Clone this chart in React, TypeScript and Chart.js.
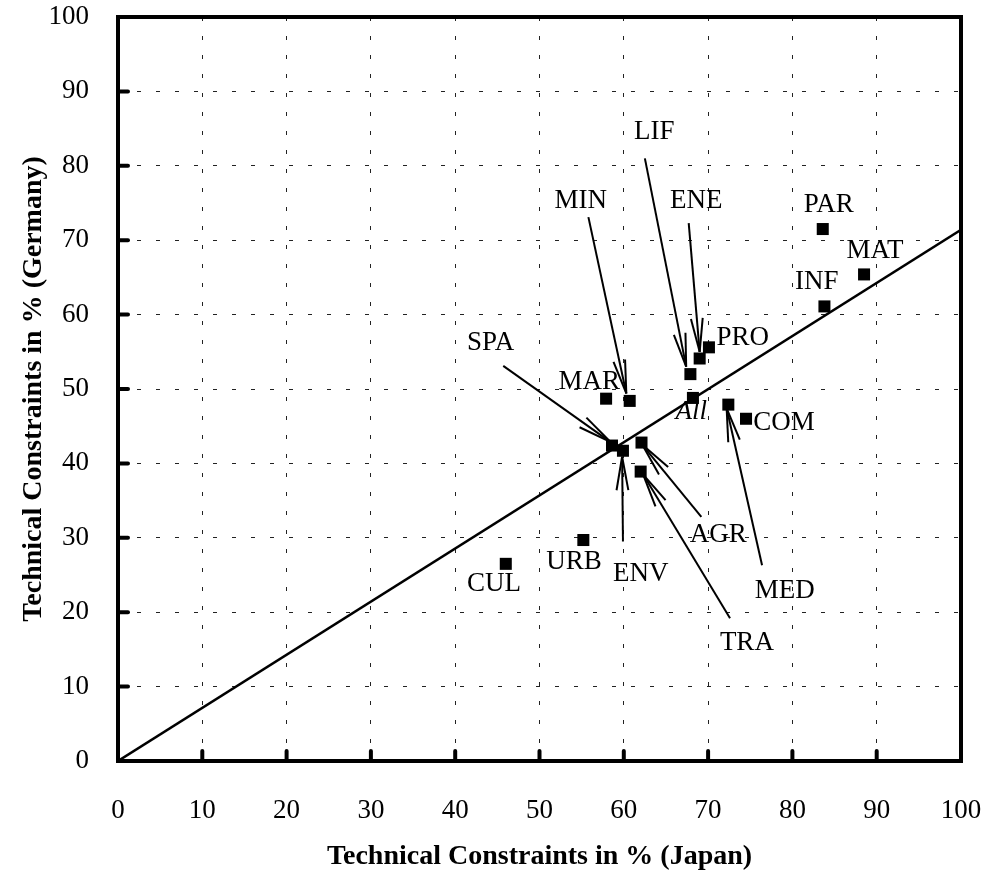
import React, { useEffect, useRef } from 'react';
import { Chart, registerables } from 'chart.js';

Chart.register(...registerables);

const SERIF = '"Liberation Serif", "Times New Roman", Times, serif';

// Research fields: share of technical constraints (%) reported in Japan vs Germany
const sectors = ['PAR', 'MAT', 'INF', 'PRO', 'ENE', 'LIF', 'All', 'MED', 'COM', 'MIN', 'MAR', 'AGR', 'SPA', 'ENV', 'TRA', 'URB', 'CUL'];
const japanPct = [83.6, 88.5, 83.8, 70.1, 69.0, 67.9, 68.2, 72.4, 74.5, 60.7, 57.9, 62.1, 58.6, 59.9, 62.0, 55.2, 46.0];
const germanyPct = [71.5, 65.4, 61.1, 55.6, 54.1, 52.0, 48.8, 47.9, 46.0, 48.4, 48.7, 42.8, 42.4, 41.7, 38.9, 29.7, 26.5];

// Where each sector code is written (axis units)
const labelJapan = [84.3, 89.8, 82.9, 74.1, 68.6, 63.6, 68.0, 79.1, 79.0, 54.9, 55.9, 71.2, 44.2, 62.0, 74.6, 54.1, 44.6];
const labelGermany = [74.7, 68.5, 64.4, 56.9, 75.3, 84.6, 46.9, 22.8, 45.4, 75.3, 51.0, 30.4, 56.2, 25.1, 15.9, 26.7, 23.8];

// Leader arrows from a label to its marker (axis units)
const arrowSectors = ['LIF', 'MIN', 'ENE', 'SPA', 'ENV', 'AGR', 'TRA', 'MED'];
const arrowFromJapan = [62.5, 55.8, 67.7, 45.7, 59.9, 69.2, 72.6, 76.4];
const arrowFromGermany = [81.0, 73.1, 72.3, 53.1, 29.5, 32.8, 19.2, 26.3];
const arrowToJapan = [67.4, 60.3, 69.0, 58.4, 59.8, 62.2, 62.3, 72.2];
const arrowToGermany = [53.0, 49.4, 55.0, 42.9, 40.9, 42.5, 38.5, 47.4];

// Reference line through the origin
const trendJapan = [0, 100];
const trendGermany = [0, 71.4];

const tickValues = [0, 10, 20, 30, 40, 50, 60, 70, 80, 90, 100];

const decorations = {
  id: 'decorations',
  afterDatasetsDraw(chart: any) {
    const { ctx, chartArea: a, scales } = chart;
    const x = scales.x;
    const y = scales.y;
    const seg = (x1: number, y1: number, x2: number, y2: number) => {
      ctx.beginPath();
      ctx.moveTo(x1, y1);
      ctx.lineTo(x2, y2);
      ctx.stroke();
    };
    ctx.save();
    ctx.strokeStyle = '#000';

    // heavy frame
    ctx.lineWidth = 4;
    ctx.lineCap = 'butt';
    ctx.strokeRect(a.left, a.top, a.right - a.left, a.bottom - a.top);

    // inward tick marks on bottom and left axes
    ctx.lineCap = 'round';
    tickValues.forEach((v) => {
      if (v === 0 || v === 100) return;
      const px = x.getPixelForValue(v);
      seg(px, a.bottom, px, a.bottom - 10);
      const py = y.getPixelForValue(v);
      seg(a.left, py, a.left + 10, py);
    });

    // leader arrows with open heads
    ctx.lineCap = 'butt';
    ctx.lineWidth = 2;
    const headLen = 34;
    const spread = (10 * Math.PI) / 180;
    arrowSectors.forEach((_, i) => {
      const sx = x.getPixelForValue(arrowFromJapan[i]);
      const sy = y.getPixelForValue(arrowFromGermany[i]);
      const tx = x.getPixelForValue(arrowToJapan[i]);
      const ty = y.getPixelForValue(arrowToGermany[i]);
      seg(sx, sy, tx, ty);
      const ang = Math.atan2(sy - ty, sx - tx);
      seg(tx, ty, tx + headLen * Math.cos(ang + spread), ty + headLen * Math.sin(ang + spread));
      seg(tx, ty, tx + headLen * Math.cos(ang - spread), ty + headLen * Math.sin(ang - spread));
    });

    // sector codes
    ctx.fillStyle = '#000';
    ctx.textAlign = 'center';
    ctx.textBaseline = 'middle';
    sectors.forEach((s, i) => {
      ctx.font = s === 'All' ? `italic 27px ${SERIF}` : `27px ${SERIF}`;
      ctx.fillText(s, x.getPixelForValue(labelJapan[i]), y.getPixelForValue(labelGermany[i]));
    });
    ctx.restore();
  },
};

export default function App() {
  const canvasRef = useRef<HTMLCanvasElement | null>(null);

  useEffect(() => {
    const canvas = canvasRef.current;
    if (!canvas) return;
    const chart = new Chart(canvas, {
      type: 'scatter',
      data: {
        datasets: [
          {
            type: 'line',
            data: trendJapan.map((v, i) => ({ x: v, y: trendGermany[i] })),
            borderColor: '#000',
            borderWidth: 2.5,
            pointRadius: 0,
            fill: false,
            order: 2,
          },
          {
            type: 'scatter',
            data: sectors.map((_, i) => ({ x: japanPct[i], y: germanyPct[i] })),
            pointStyle: 'rect',
            pointRadius: 8.5,
            backgroundColor: '#000',
            borderColor: '#000',
            borderWidth: 0,
            order: 1,
          },
        ],
      } as any,
      options: {
        animation: false,
        responsive: false,
        devicePixelRatio: 1,
        events: [],
        layout: { padding: { top: 17, right: 23, bottom: 0, left: 0 } },
        plugins: { legend: { display: false }, tooltip: { enabled: false } },
        scales: {
          x: {
            type: 'linear',
            min: 0,
            max: 100,
            ticks: { stepSize: 10, color: '#000', font: { family: SERIF, size: 27 }, padding: 34, maxRotation: 0 },
            grid: { color: '#222', lineWidth: 1, drawTicks: false },
            border: { display: false, dash: [4, 15] },
            title: {
              display: true,
              text: 'Technical Constraints in % (Japan)',
              color: '#000',
              font: { family: SERIF, size: 28, weight: 'bold', lineHeight: 1.1 },
              padding: { top: 0, bottom: 0 },
            },
            afterFit: (s: any) => {
              s.height = 111;
              s.paddingLeft = 0;
              s.paddingRight = 0;
            },
          },
          y: {
            type: 'linear',
            min: 0,
            max: 100,
            ticks: { stepSize: 10, color: '#000', font: { family: SERIF, size: 27 }, padding: 29 },
            grid: { color: '#222', lineWidth: 1, drawTicks: false },
            border: { display: false, dash: [4, 15] },
            title: {
              display: true,
              text: 'Technical Constraints in % (Germany)',
              color: '#000',
              font: { family: SERIF, size: 28, weight: 'bold', lineHeight: 1.1 },
              padding: { top: 18, bottom: 0 },
            },
            afterFit: (s: any) => {
              s.width = 118;
              s.paddingTop = 0;
              s.paddingBottom = 0;
            },
          },
        },
      } as any,
      plugins: [decorations],
    });
    return () => chart.destroy();
  }, []);

  return (
    <div style={{ position: 'fixed', left: 0, top: 0, width: 984, height: 872, background: '#fff' }}>
      <canvas ref={canvasRef} width={984} height={872} style={{ display: 'block' }} />
    </div>
  );
}
